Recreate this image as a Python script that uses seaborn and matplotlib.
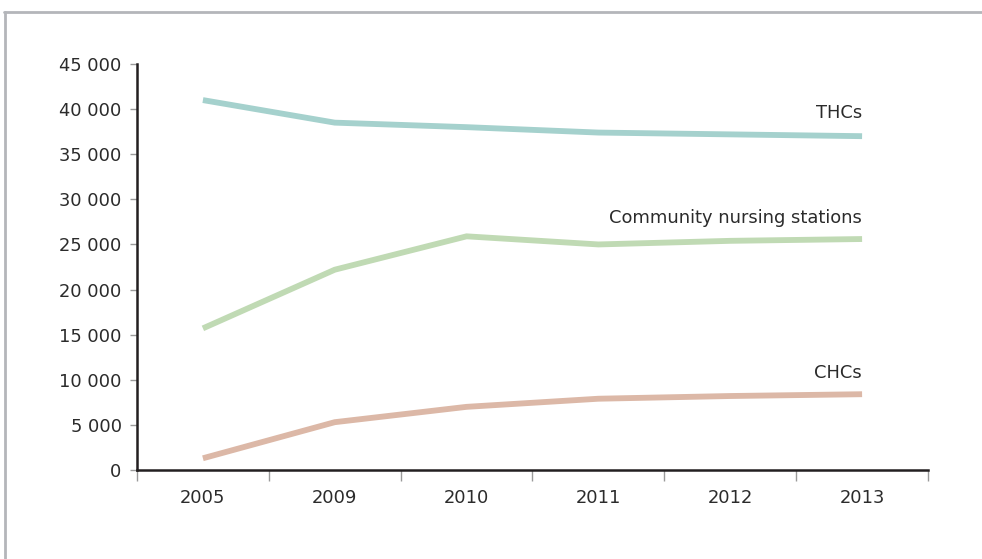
import matplotlib
matplotlib.use("Agg")
import matplotlib.pyplot as plt
from matplotlib.lines import Line2D
from matplotlib.ticker import FuncFormatter, FixedLocator
import seaborn as sns
import pandas as pd

# Number of health workers by facility type
years = ["2005", "2009", "2010", "2011", "2012", "2013"]
thcs = [41000, 38500, 38000, 37400, 37200, 37000]
nursing_stations = [15700, 22200, 25900, 25000, 25400, 25600]
chcs = [1300, 5300, 7000, 7900, 8200, 8400]

series_names = ["THCs", "Community nursing stations", "CHCs"]
series_values = [thcs, nursing_stations, chcs]
series_colors = ["#a5d1cd", "#c0dab4", "#dcb8a7"]
label_y = [39600, 27900, 10750]

y_ticks = list(range(0, 45001, 5000))

rows = []
for name, vals in zip(series_names, series_values):
    for yr, v in zip(years, vals):
        rows.append({"year": yr, "value": v, "series": name})
df = pd.DataFrame(rows)

sns.set_theme(style="white")
plt.rcParams["font.family"] = ["DejaVu Sans"]

fig = plt.figure(figsize=(9.82, 5.59), dpi=100)
ax = fig.add_axes([137 / 982, 89 / 559, (928 - 137) / 982, (470 - 64) / 559])

sns.lineplot(data=df, x="year", y="value", hue="series", hue_order=series_names,
             palette=dict(zip(series_names, series_colors)), linewidth=4.2,
             legend=False, ax=ax, sort=False)
for ln in ax.get_lines():
    ln.set_solid_capstyle("butt")
    ln.set_solid_joinstyle("miter")

ax.set_xlim(-0.5, len(years) - 0.5)
ax.set_ylim(0, 45000)
ax.set_xlabel("")
ax.set_ylabel("")

ax.yaxis.set_major_locator(FixedLocator(y_ticks))
ax.yaxis.set_major_formatter(FuncFormatter(lambda v, p: f"{int(v):,}".replace(",", " ")))
ax.set_xticks(range(len(years)))
ax.set_xticklabels(years)
ax.set_xticks([i - 0.5 for i in range(len(years) + 1)], minor=True)

text_color = "#2b2b2b"
fs = 12.9
ax.tick_params(axis="y", which="major", left=True, length=5, width=1, color="#9a9a9a",
               pad=6, labelsize=fs, labelcolor=text_color)
ax.tick_params(axis="x", which="major", bottom=False, length=0, pad=14,
               labelsize=fs, labelcolor=text_color)
ax.tick_params(axis="x", which="minor", bottom=True, length=8, width=1, color="#9a9a9a")

for side in ["top", "right"]:
    ax.spines[side].set_visible(False)
for side in ["left", "bottom"]:
    ax.spines[side].set_color("#231f20")
    ax.spines[side].set_linewidth(1.8)

last = len(years) - 1
for name, ly in zip(series_names, label_y):
    ax.text(last, ly, name, ha="right", va="center", fontsize=fs, color=text_color)

# outer frame
frame_color = "#b4b6ba"
fig.add_artist(Line2D([4 / 982, 1.0], [1 - 12 / 559, 1 - 12 / 559], color=frame_color, lw=2))
fig.add_artist(Line2D([5 / 982, 5 / 982], [0.0, 1 - 12 / 559], color=frame_color, lw=2))

fig.savefig("out.png", dpi=100)
